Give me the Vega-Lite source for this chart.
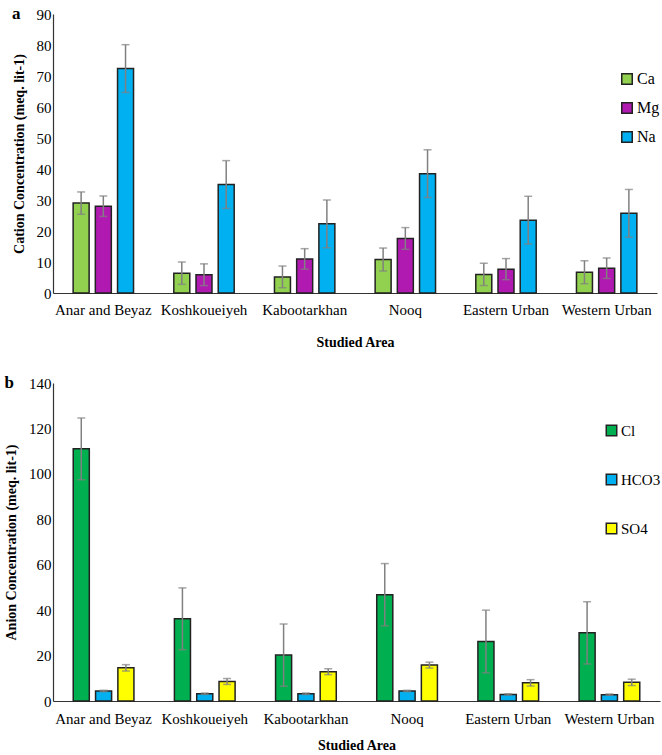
{
  "$schema": "https://vega.github.io/schema/vega-lite/v6.json",
  "background": "white",
  "padding": {"left": 4, "top": 5, "right": 2, "bottom": 2},
  "spacing": 25,
  "datasets": {
    "cation": [
      {"area": "Anar and Beyaz", "ion": "Ca", "value": 29.0, "err": 3.6},
      {"area": "Anar and Beyaz", "ion": "Mg", "value": 28.0, "err": 3.3},
      {"area": "Anar and Beyaz", "ion": "Na", "value": 72.4, "err": 7.7},
      {"area": "Koshkoueiyeh", "ion": "Ca", "value": 6.4, "err": 3.6},
      {"area": "Koshkoueiyeh", "ion": "Mg", "value": 5.9, "err": 3.5},
      {"area": "Koshkoueiyeh", "ion": "Na", "value": 35.0, "err": 7.7},
      {"area": "Kabootarkhan", "ion": "Ca", "value": 5.2, "err": 3.5},
      {"area": "Kabootarkhan", "ion": "Mg", "value": 11.0, "err": 3.3},
      {"area": "Kabootarkhan", "ion": "Na", "value": 22.3, "err": 7.7},
      {"area": "Nooq", "ion": "Ca", "value": 10.8, "err": 3.7},
      {"area": "Nooq", "ion": "Mg", "value": 17.6, "err": 3.5},
      {"area": "Nooq", "ion": "Na", "value": 38.5, "err": 7.7},
      {"area": "Eastern Urban", "ion": "Ca", "value": 6.0, "err": 3.6},
      {"area": "Eastern Urban", "ion": "Mg", "value": 7.7, "err": 3.4},
      {"area": "Eastern Urban", "ion": "Na", "value": 23.5, "err": 7.7},
      {"area": "Western Urban", "ion": "Ca", "value": 6.7, "err": 3.7},
      {"area": "Western Urban", "ion": "Mg", "value": 8.0, "err": 3.3},
      {"area": "Western Urban", "ion": "Na", "value": 25.7, "err": 7.7}
    ],
    "anion": [
      {"area": "Anar and Beyaz", "ion": "Cl", "value": 111.0, "err": 13.6},
      {"area": "Anar and Beyaz", "ion": "HCO3", "value": 4.4, "err": 0.3},
      {"area": "Anar and Beyaz", "ion": "SO4", "value": 14.6, "err": 1.4},
      {"area": "Koshkoueiyeh", "ion": "Cl", "value": 36.2, "err": 13.6},
      {"area": "Koshkoueiyeh", "ion": "HCO3", "value": 3.2, "err": 0.3},
      {"area": "Koshkoueiyeh", "ion": "SO4", "value": 8.6, "err": 1.3},
      {"area": "Kabootarkhan", "ion": "Cl", "value": 20.2, "err": 13.7},
      {"area": "Kabootarkhan", "ion": "HCO3", "value": 3.2, "err": 0.3},
      {"area": "Kabootarkhan", "ion": "SO4", "value": 12.9, "err": 1.3},
      {"area": "Nooq", "ion": "Cl", "value": 46.8, "err": 13.7},
      {"area": "Nooq", "ion": "HCO3", "value": 4.4, "err": 0.3},
      {"area": "Nooq", "ion": "SO4", "value": 15.8, "err": 1.3},
      {"area": "Eastern Urban", "ion": "Cl", "value": 26.2, "err": 13.8},
      {"area": "Eastern Urban", "ion": "HCO3", "value": 2.9, "err": 0.3},
      {"area": "Eastern Urban", "ion": "SO4", "value": 8.0, "err": 1.4},
      {"area": "Western Urban", "ion": "Cl", "value": 30.0, "err": 13.7},
      {"area": "Western Urban", "ion": "HCO3", "value": 2.8, "err": 0.3},
      {"area": "Western Urban", "ion": "SO4", "value": 8.2, "err": 1.4}
    ]
  },
  "resolve": {
    "scale": {"x": "independent", "y": "independent", "xOffset": "independent", "color": "independent"},
    "legend": {"color": "independent"}
  },
  "vconcat": [
    {
      "width": 604,
      "height": 279,
      "data": {"name": "cation"},
      "title": {"text": "a", "anchor": "start", "frame": "bounds", "offset": -16, "fontSize": 17, "font": "Liberation Serif", "fontWeight": "bold", "color": "black"},
      "encoding": {
        "x": {"field": "area", "type": "nominal", "sort": ["Anar and Beyaz", "Koshkoueiyeh", "Kabootarkhan", "Nooq", "Eastern Urban", "Western Urban"],
              "scale": {"paddingInner": 0.4, "paddingOuter": 0.2},
              "axis": {"title": "Studied Area", "labelAngle": 0, "labelPadding": 9, "titlePadding": 18}},
        "xOffset": {"field": "ion", "type": "nominal", "sort": ["Ca", "Mg", "Na"], "scale": {"paddingInner": 0.28, "paddingOuter": 0}},
        "y": {"field": "value", "type": "quantitative", "scale": {"domain": [0, 90]},
              "axis": {"title": "Cation Concentration (meq. lit-1)", "values": [0, 10, 20, 30, 40, 50, 60, 70, 80, 90], "titlePadding": 10}}
      },
      "layer": [
        {
          "mark": {"type": "bar", "stroke": "#222222", "strokeWidth": 1.5},
          "encoding": {
            "color": {"field": "ion", "type": "nominal", "sort": ["Ca", "Mg", "Na"],
                      "scale": {"domain": ["Ca", "Mg", "Na"], "range": ["#92D050", "#B01AB0", "#00B0F0"]},
                      "legend": {"title": null, "orient": "none", "legendX": 566, "legendY": 57, "rowPadding": 11, "labelFontSize": 16}}
          }
        },
        {
          "mark": {"type": "errorbar", "ticks": {"size": 8, "color": "#808080", "thickness": 1.5}, "rule": {"color": "#808080", "strokeWidth": 1.5}},
          "encoding": {"yError": {"field": "err"}}
        }
      ]
    },
    {
      "width": 607,
      "height": 318,
      "data": {"name": "anion"},
      "title": {"text": "b", "anchor": "start", "frame": "bounds", "offset": -16, "fontSize": 17, "font": "Liberation Serif", "fontWeight": "bold", "color": "black"},
      "encoding": {
        "x": {"field": "area", "type": "nominal", "sort": ["Anar and Beyaz", "Koshkoueiyeh", "Kabootarkhan", "Nooq", "Eastern Urban", "Western Urban"],
              "scale": {"paddingInner": 0.4, "paddingOuter": 0.2},
              "axis": {"title": "Studied Area", "labelAngle": 0, "labelPadding": 10, "titlePadding": 12}},
        "xOffset": {"field": "ion", "type": "nominal", "sort": ["Cl", "HCO3", "SO4"], "scale": {"paddingInner": 0.28, "paddingOuter": 0}},
        "y": {"field": "value", "type": "quantitative", "scale": {"domain": [0, 140]},
              "axis": {"title": "Anion Concentration (meq. lit-1)", "values": [0, 20, 40, 60, 80, 100, 120, 140], "titlePadding": 10}}
      },
      "layer": [
        {
          "mark": {"type": "bar", "stroke": "#222222", "strokeWidth": 1.5},
          "encoding": {
            "color": {"field": "ion", "type": "nominal", "sort": ["Cl", "HCO3", "SO4"],
                      "scale": {"domain": ["Cl", "HCO3", "SO4"], "range": ["#00B050", "#00B0F0", "#FFFF00"]},
                      "legend": {"title": null, "orient": "none", "legendX": 551, "legendY": 40, "rowPadding": 32, "labelFontSize": 15}}
          }
        },
        {
          "mark": {"type": "errorbar", "ticks": {"size": 8, "color": "#808080", "thickness": 1.5}, "rule": {"color": "#808080", "strokeWidth": 1.5}},
          "encoding": {"yError": {"field": "err"}}
        }
      ]
    }
  ],
  "config": {
    "font": "Liberation Serif",
    "view": {"stroke": null},
    "axis": {
      "grid": false,
      "ticks": false,
      "domainColor": "#333333",
      "domainWidth": 1.2,
      "labelFont": "Liberation Serif",
      "labelFontSize": 15,
      "labelColor": "black",
      "titleFont": "Liberation Serif",
      "titleFontSize": 14,
      "titleFontWeight": "bold",
      "titleColor": "black"
    },
    "legend": {
      "symbolType": "square",
      "symbolSize": 110,
      "symbolStrokeColor": "#222222",
      "symbolStrokeWidth": 1.5,
      "symbolOpacity": 1,
      "labelFont": "Liberation Serif",
      "labelColor": "black",
      "labelOffset": 2
    }
  }
}
